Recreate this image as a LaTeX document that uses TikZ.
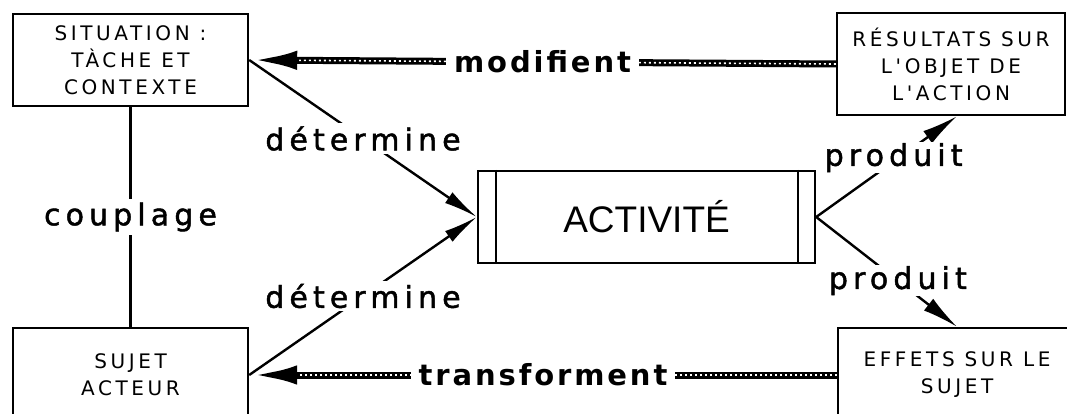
\documentclass[tikz,border=0pt]{standalone}
\usepackage{fontspec}
\usetikzlibrary{arrows.meta}
\newfontfamily\boxfont{DejaVu Sans}[LetterSpace=18, Ligatures=TeXOff]
\newfontfamily\lblfont{DejaVu Sans}[LetterSpace=17, FakeBold=1.5]
\newfontfamily\grasfont{DejaVu Sans}[LetterSpace=10]
\newfontfamily\actfont{Liberation Sans}

\tikzset{
  bloc/.style={draw, line width=2.4pt, align=center, inner sep=0pt, font=\boxfont\fontsize{20}{27}\selectfont},
  lbl/.style={fill=white, inner xsep=8pt, inner ysep=3pt, font=\lblfont\fontsize{30}{34}\selectfont},
  lblgras/.style={lbl, font=\grasfont\bfseries\fontsize{29}{34}\selectfont},
  fleche/.style={line width=2.4pt, -{Latex[length=34pt, width=13pt]}},
  coin/.style={line width=2.4pt, -{Latex[length=36pt, width=15pt]}},
  rope/.style={line width=7pt, -{Latex[length=48pt, width=19pt]},
    postaction={draw=white, -, line width=1.6pt, dash pattern=on 2pt off 3pt, shorten >=50pt}}
}

\begin{document}
\begin{tikzpicture}[x=1pt, y=-1pt]
    \useasboundingbox (0,0) rectangle (1067,414);
    \clip (0,0) rectangle (1067,414);
    % Boites
    \node[bloc, minimum width=235pt, minimum height=92pt] (sit) at (130.5,60) {SITUATION :\\TÀCHE ET\\CONTEXTE};
    \node[bloc, minimum width=228pt, minimum height=102pt] (res) at (951,64) {RÉSULTATS SUR\\L'OBJET DE\\L'ACTION};
    \node[bloc, minimum width=235pt, minimum height=94pt] (suj) at (130.5,375) {SUJET\\ACTEUR};
    \node[bloc, minimum width=238pt, minimum height=94pt] (eff) at (957,375) {EFFETS SUR LE\\SUJET};
    % Activite
    \node[draw, line width=2.4pt, minimum width=337pt, minimum height=92pt, font=\actfont\fontsize{37}{40}\selectfont] (act) at (646.5,217) {ACTIVITÉ};
    \draw[line width=2.4pt] ([xshift=19pt]act.north west) -- ([xshift=19pt]act.south west);
    \draw[line width=2.4pt] ([xshift=-18pt]act.north east) -- ([xshift=-18pt]act.south east);
    % Fleches
    \draw[rope] (res.west) -- node[lblgras] (modif) {modifient} (sit.east);
    \draw[rope] (eff.west) -- node[lblgras] (transf) {transforment} (suj.east);
    \draw[fleche] (sit.east) -- node[lbl] (det1) {détermine} (act.west);
    \draw[fleche] (suj.east) -- node[lbl] (det2) {détermine} (act.west);
    \draw[coin] (act.east) -- node[lbl, pos=0.55, yshift=4pt, inner ysep=1pt] (prod1) {produit} ([xshift=6pt]res.south);
    \draw[coin] (act.east) -- node[lbl, pos=0.58, inner ysep=1pt] (prod2) {produit} (eff.north);
    \draw[line width=2.4pt] (sit) -- node[lbl] (coupl) {couplage} (suj);
\end{tikzpicture}
\end{document}
